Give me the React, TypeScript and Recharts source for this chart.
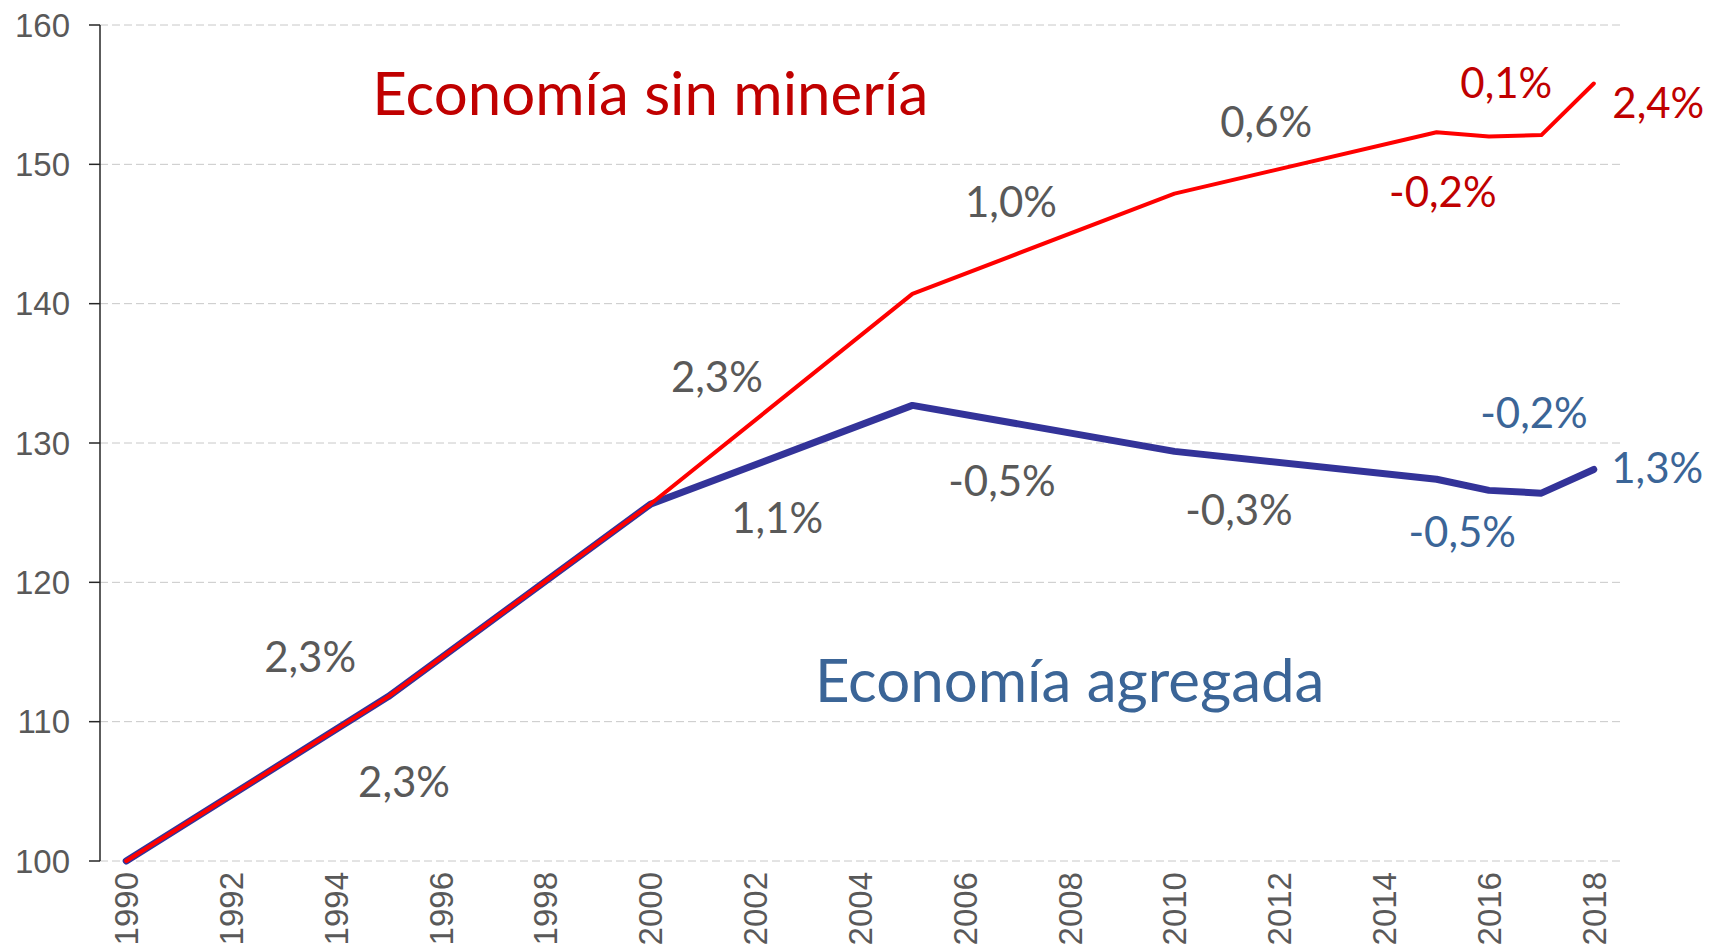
import { LineChart, Line, XAxis, YAxis, CartesianGrid, ReferenceDot } from "recharts";

// Índice 1990 = 100
const years = [1990, 1995, 2000, 2005, 2010, 2015, 2016, 2017, 2018];
const sinMineria = [100, 111.8, 125.6, 140.7, 147.9, 152.3, 152.0, 152.1, 155.8];
const agregada = [100, 111.8, 125.6, 132.7, 129.4, 127.4, 126.6, 126.4, 128.1];

const allYears = [
  1990, 1991, 1992, 1993, 1994, 1995, 1996, 1997, 1998, 1999, 2000, 2001, 2002, 2003, 2004,
  2005, 2006, 2007, 2008, 2009, 2010, 2011, 2012, 2013, 2014, 2015, 2016, 2017, 2018,
];
const yearLabels = [1990, 1992, 1994, 1996, 1998, 2000, 2002, 2004, 2006, 2008, 2010, 2012, 2014, 2016, 2018];
const yTicks = [100, 110, 120, 130, 140, 150, 160];

// anotaciones: texto, posición en coordenadas de datos (año, índice), estilo
const notes = [
  { text: "Economía sin minería", year: 2000.0, value: 155.06, kind: "titleRed" },
  { text: "Economía agregada", year: 2008.0, value: 112.99, kind: "titleBlue" },
  { text: "2,3%", year: 1993.51, value: 114.64, kind: "gray" },
  { text: "2,3%", year: 1995.3, value: 105.67, kind: "gray" },
  { text: "2,3%", year: 2001.27, value: 134.75, kind: "gray" },
  { text: "1,1%", year: 2002.42, value: 124.62, kind: "gray" },
  { text: "1,0%", year: 2006.88, value: 147.31, kind: "gray" },
  { text: "-0,5%", year: 2006.71, value: 127.28, kind: "gray" },
  { text: "0,6%", year: 2011.75, value: 153.05, kind: "gray" },
  { text: "-0,3%", year: 2011.23, value: 125.2, kind: "gray" },
  { text: "-0,2%", year: 2015.12, value: 148.03, kind: "red" },
  { text: "0,1%", year: 2016.33, value: 155.85, kind: "red" },
  { text: "2,4%", year: 2019.23, value: 154.42, kind: "red" },
  { text: "-0,5%", year: 2015.49, value: 123.62, kind: "blue" },
  { text: "-0,2%", year: 2016.86, value: 132.16, kind: "blue" },
  { text: "1,3%", year: 2019.21, value: 128.21, kind: "blue" },
];

const noteStyle: Record<string, { fill: string; size: number }> = {
  titleRed: { fill: "#C00000", size: 60 },
  titleBlue: { fill: "#3B6597", size: 60 },
  gray: { fill: "#595959", size: 42 },
  red: { fill: "#C00000", size: 42 },
  blue: { fill: "#3B6597", size: 42 },
};

const data = years.map((year, i) => ({ year, sinMineria: sinMineria[i], agregada: agregada[i] }));
const yearBounds = [...allYears.map((y) => y - 0.5), allYears[allYears.length - 1] + 0.5];

const axisColor = "#262626";
const tickFont = "'Liberation Sans', Arial, sans-serif";

function YearTick(props: any) {
  const { x, y, payload } = props;
  return (
    <text
      x={x}
      y={y}
      transform={`rotate(-90 ${x} ${y})`}
      textAnchor="end"
      dy="0.36em"
      fill="#595959"
      fontSize={33}
      fontFamily={tickFont}
    >
      {payload.value}
    </text>
  );
}

export default function App() {
  return (
    <div style={{ position: "absolute", left: 0, top: 0, width: 1709, height: 944, background: "#fff" }}>
      <LineChart width={1709} height={944} data={data} margin={{ top: 25, right: 89, bottom: 0, left: 0 }}>
        <CartesianGrid vertical={false} stroke="#C8C8C8" strokeDasharray="8 4" />
        <XAxis
          type="number"
          dataKey="year"
          domain={[yearBounds[0], yearBounds[yearBounds.length - 1]]}
          ticks={yearBounds}
          interval={0}
          tick={false}
          tickSize={9}
          height={0}
          axisLine={{ stroke: axisColor, strokeWidth: 1.5 }}
          tickLine={{ stroke: axisColor, strokeWidth: 1.5 }}
        />
        <XAxis
          xAxisId="labels"
          type="number"
          dataKey="year"
          domain={[yearBounds[0], yearBounds[yearBounds.length - 1]]}
          ticks={yearLabels}
          interval={0}
          height={83}
          tickSize={0}
          tickMargin={11}
          axisLine={false}
          tickLine={false}
          tick={<YearTick />}
        />
        <YAxis
          domain={[100, 160]}
          ticks={yTicks}
          interval={0}
          width={100}
          tickSize={11}
          tickMargin={19}
          axisLine={{ stroke: axisColor, strokeWidth: 1.5 }}
          tickLine={{ stroke: axisColor, strokeWidth: 1.5 }}
          tick={{ fill: "#595959", fontSize: 33, fontFamily: tickFont }}
        />
        <Line
          dataKey="agregada"
          stroke="#333399"
          strokeWidth={7}
          strokeLinecap="round"
          strokeLinejoin="round"
          dot={false}
          isAnimationActive={false}
        />
        <Line
          dataKey="sinMineria"
          stroke="#FF0000"
          strokeWidth={4}
          strokeLinecap="round"
          strokeLinejoin="round"
          dot={false}
          isAnimationActive={false}
        />
        {notes.map((n, i) => {
          const st = noteStyle[n.kind];
          return (
            <ReferenceDot
              key={i}
              x={n.year}
              y={n.value}
              ifOverflow="visible"
              shape={(p: any) => (
                <text
                  x={p.cx}
                  y={p.cy}
                  textAnchor="middle"
                  dy="0.36em"
                  fill={st.fill}
                  fontSize={st.size}
                  fontFamily="Lato, 'Open Sans', sans-serif"
                >
                  {n.text}
                </text>
              )}
            />
          );
        })}
      </LineChart>
    </div>
  );
}
